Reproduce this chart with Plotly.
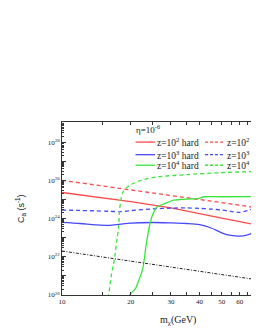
import numpy as np
import plotly.graph_objects as go

# ---------------- data ----------------
m_red = [10, 20, 30, 40, 50, 60, 70]
red_hard = [2.3e25, 7.6e24, 3.6e24, 1.74e24, 1.05e24, 6.9e23, 4.8e23]
red_soft = [1.0e26, 3.2e25, 1.6e25, 1.0e25, 6.8e24, 5.0e24, 3.7e24]

m_blue = [10, 12, 14, 16, 18, 20, 25, 30, 35, 40, 45, 50, 55, 60, 65, 70]
blue_hard = [6.3e23, 5.5e23, 4.7e23, 4.4e23, 5.1e23, 5.8e23, 6.2e23, 5.9e23,
             5.5e23, 4.8e23, 3.2e23, 1.8e23, 1.3e23, 1.2e23, 1.4e23, 1.9e23]
blue_soft = [2.8e24, 2.65e24, 2.5e24, 2.4e24, 2.3e24, 2.6e24, 3.2e24, 3.5e24,
             3.6e24, 3.4e24, 3.1e24, 2.8e24, 2.4e24, 2.1e24, 2.6e24, 3.7e24]

m_green_hard = [19.5, 19.8, 21.0, 21.8, 22.6, 23.3, 24.1, 24.8, 26.1, 28.3,
                30.8, 33.3, 39.8, 41.8, 49.2, 70]
green_hard = [3e19, 1.0e20, 2.2e20, 7e20, 2.5e21, 3.3e22, 3.5e23, 1.3e24,
              4.1e24, 6.2e24, 9.1e24, 1.0e25, 1.12e25, 1.38e25, 1.38e25, 1.4e25]

m_green_soft = [15.7, 16.0, 16.5, 16.8, 17.1, 17.4, 17.7, 17.9, 18.5, 19.8,
                22.2, 26.1, 35.4, 49.2, 70]
green_soft = [3e19, 1.0e20, 1.35e21, 3.8e21, 1.5e22, 8.0e22, 3.5e23, 3.5e24,
              2.45e25, 5.5e25, 1.0e26, 1.5e26, 2.0e26, 2.5e26, 2.9e26]

m_black = [10, 20, 30, 40, 50, 60, 70]
black = [2.0e22, 5.9e21, 2.9e21, 1.7e21, 1.2e21, 8.6e20, 6.5e20]

x_tickvals = [10, 20, 30, 40, 50, 60, 70]
x_ticktext = ["10", "20", "30", "40", "50", "60", "70"]
x_minor = [15, 25, 35, 45, 55, 65]
y_tickvals = [1e20, 1e21, 1e22, 1e23, 1e24, 1e25, 1e26, 1e27, 1e28, 1e29]
y_ticktext = ["10<sup>20</sup>", "", "10<sup>22</sup>", "", "10<sup>24</sup>", "",
              "10<sup>26</sup>", "", "10<sup>28</sup>", ""]

legend_rows = [("z=10<sup>2</sup> hard", "z=10<sup>2</sup> soft", "#ff4a4a"),
               ("z=10<sup>3</sup> hard", "z=10<sup>3</sup> soft", "#4848ff"),
               ("z=10<sup>4</sup> hard", "z=10<sup>4</sup> soft", "#3ae63a")]

# ---------------- figure ----------------
RED, BLUE, GREEN = "#ff4a4a", "#4848ff", "#3ae63a"
SERIF = "Liberation Serif"

fig = go.Figure()
fig.add_trace(go.Scatter(x=m_red, y=red_soft, mode="lines", line=dict(color=RED, width=1.3, dash="4px,3px")))
fig.add_trace(go.Scatter(x=m_red, y=red_hard, mode="lines", line=dict(color=RED, width=1.3)))
fig.add_trace(go.Scatter(x=m_blue, y=blue_soft, mode="lines", line=dict(color=BLUE, width=1.3, dash="4px,3px", shape="spline", smoothing=0.8)))
fig.add_trace(go.Scatter(x=m_blue, y=blue_hard, mode="lines", line=dict(color=BLUE, width=1.3, shape="spline", smoothing=0.8)))
fig.add_trace(go.Scatter(x=m_green_soft, y=green_soft, mode="lines", line=dict(color=GREEN, width=1.3, dash="4px,3px", shape="spline", smoothing=0.8)))
fig.add_trace(go.Scatter(x=m_green_hard, y=green_hard, mode="lines", line=dict(color=GREEN, width=1.3, shape="spline", smoothing=0.6)))
fig.add_trace(go.Scatter(x=m_black, y=black, mode="lines", line=dict(color="#222222", width=1, dash="3px,1.5px,1px,1.5px")))

W, H = 251, 320
fig.update_layout(
    width=W, height=H,
    margin=dict(l=54, r=0, t=114, b=33),
    paper_bgcolor="white", plot_bgcolor="white",
    showlegend=False,
    font=dict(family=SERIF, size=7, color="#222222"),
)
fig.update_xaxes(type="log", range=[1, np.log10(70)],
                 tickvals=x_tickvals, ticktext=x_ticktext, ticklabeloverflow="allow",
                 ticks="inside", ticklen=3, tickwidth=0.8, tickcolor="#333",
                 minor=dict(tickvals=x_minor, ticks="inside", ticklen=3, tickwidth=0.8, tickcolor="#333"),
                 showline=True, linecolor="#333", linewidth=1, mirror="allticks",
                 showgrid=False, zeroline=False, tickfont=dict(size=7, family=SERIF))
y_minor = [float(k) * 10.0 ** e for e in range(20, 29) for k in range(2, 10)]
fig.update_yaxes(type="log", range=[20, 29.05],
                 tickvals=y_tickvals, ticktext=y_ticktext,
                 ticks="inside", ticklen=4, tickwidth=0.8, tickcolor="#333",
                 minor=dict(tickvals=y_minor, ticks="inside", ticklen=2, tickwidth=0.6, tickcolor="#333"),
                 showline=True, linecolor="#333", linewidth=1, mirror="allticks",
                 showgrid=False, zeroline=False, tickfont=dict(size=7, family=SERIF))

# axis titles
fig.add_annotation(text="m<sub>χ</sub>(GeV)", x=0.6, y=-0.1, xref="paper", yref="paper",
                   xanchor="center", yanchor="top", showarrow=False,
                   font=dict(family=SERIF, size=10, color="#222"))
fig.add_annotation(text="C<sub>a</sub> (s<sup>-1</sup>)", x=-0.215, y=0.5, xref="paper", yref="paper",
                   textangle=-90, xanchor="center", yanchor="middle", showarrow=False,
                   font=dict(family="Liberation Sans", size=9, color="#222"))

# legend (drawn manually so the rows are as tight as in the reference)
LEG_FONT = dict(family=SERIF, size=9.5, color="#222")
fig.add_annotation(text="η=10<sup>-6</sup>", x=0.375, y=0.96, xref="paper", yref="paper",
                   xanchor="left", yanchor="middle", showarrow=False,
                   font=dict(family=SERIF, size=9, color="#222"))
row_y = [0.884, 0.811, 0.750]
for (th, ts, col), yy in zip(legend_rows, row_y):
    fig.add_shape(type="line", xref="paper", yref="paper", x0=0.381, x1=0.482, y0=yy, y1=yy,
                  line=dict(color=col, width=1.3))
    fig.add_annotation(text=th, x=0.481, y=yy, xref="paper", yref="paper", xanchor="left",
                       yanchor="middle", showarrow=False, font=LEG_FONT)
    fig.add_shape(type="line", xref="paper", yref="paper", x0=0.741, x1=0.838, y0=yy, y1=yy,
                  line=dict(color=col, width=1.3, dash="3px,2px"))
    fig.add_annotation(text=ts, x=0.842, y=yy, xref="paper", yref="paper", xanchor="left",
                       yanchor="middle", showarrow=False, font=LEG_FONT)

fig.write_html("out.html")
